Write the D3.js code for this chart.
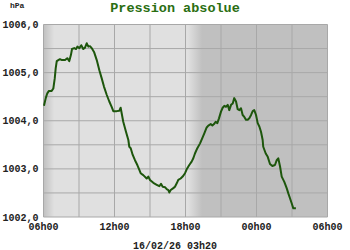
<!DOCTYPE html>
<html>
<head>
<meta charset="utf-8">
<script src="https://cdn.jsdelivr.net/npm/d3@7"></script>
<style>
  body { margin: 0; background: #fff; }
  text { font-family: "Liberation Mono", "DejaVu Sans Mono", monospace; font-weight: bold; }
</style>
</head>
<body>
<script>
// heures depuis 06h00 et pression (hPa)
var heures = [0.04,0.19,0.32,0.46,0.69,0.83,0.95,1.03,1.12,1.25,1.39,1.56,1.82,2.01,2.18,2.32,2.41,2.60,2.75,2.86,3.03,3.19,3.36,3.51,3.65,3.79,3.93,4.07,4.27,4.50,4.72,4.92,5.11,5.34,5.56,5.76,5.90,6.19,6.41,6.52,6.61,6.74,6.97,7.17,7.25,7.37,7.54,7.73,7.93,8.10,8.21,8.43,8.72,8.86,9.00,9.28,9.57,9.79,9.93,10.07,10.27,10.41,10.55,10.63,10.75,10.97,11.11,11.26,11.39,11.59,11.76,11.96,12.10,12.32,12.52,12.66,12.80,13.00,13.23,13.42,13.59,13.79,13.93,14.13,14.27,14.41,14.55,14.69,14.83,15.00,15.14,15.28,15.42,15.57,15.70,15.85,15.99,16.12,16.27,16.41,16.55,16.69,16.83,16.97,17.11,17.26,17.39,17.54,17.68,17.81,17.96,18.10,18.24,18.38,18.52,18.57,18.78,18.95,19.14,19.34,19.56,19.71,19.84,19.99,20.13,20.35,20.55,20.69,20.83,20.98,21.11,21.33];
var pression = [1004.31,1004.47,1004.57,1004.62,1004.62,1004.67,1004.88,1005.09,1005.24,1005.26,1005.28,1005.26,1005.26,1005.30,1005.24,1005.37,1005.49,1005.51,1005.49,1005.54,1005.51,1005.57,1005.49,1005.52,1005.61,1005.54,1005.55,1005.51,1005.43,1005.26,1005.05,1004.88,1004.71,1004.54,1004.40,1004.29,1004.20,1004.20,1004.21,1004.27,1004.15,1003.98,1003.77,1003.60,1003.46,1003.43,1003.29,1003.18,1003.08,1002.98,1002.91,1002.87,1002.80,1002.84,1002.77,1002.71,1002.67,1002.64,1002.69,1002.63,1002.62,1002.58,1002.56,1002.51,1002.56,1002.60,1002.63,1002.70,1002.77,1002.80,1002.84,1002.91,1002.99,1003.08,1003.15,1003.22,1003.32,1003.43,1003.53,1003.64,1003.74,1003.86,1003.90,1003.93,1003.90,1003.93,1003.98,1003.95,1004.05,1004.19,1004.27,1004.31,1004.29,1004.33,1004.22,1004.33,1004.36,1004.47,1004.40,1004.24,1004.22,1004.26,1004.12,1004.08,1004.02,1004.02,1004.05,1004.12,1004.20,1004.22,1004.12,1003.95,1003.88,1003.77,1003.60,1003.46,1003.32,1003.25,1003.10,1003.06,1003.08,1003.18,1003.22,1003.05,1002.84,1002.73,1002.60,1002.49,1002.39,1002.28,1002.18,1002.18];

var ticksX = [0, 6, 12, 18, 24];
var labelsX = ["06h00", "12h00", "18h00", "00h00", "06h00"];
var ticksY = [1002, 1003, 1004, 1005, 1006];
// aube / crépuscule (heures depuis 06h00)
var aube = [0, 0.9];
var crepuscule = [12.2, 13.4];

var W = 350, H = 250;
var gauche = 43.5, droite = 327.5, haut = 24.5, bas = 217;

var svg = d3.select("body").append("svg")
  .attr("width", W)
  .attr("height", H);

var x = d3.scaleLinear().domain([0, 24]).range([gauche, droite]);
var y = d3.scaleLinear().domain([1002, 1006]).range([bas, haut]);

// Fond jour / nuit
var grad = svg.append("defs").append("linearGradient")
  .attr("id", "fond")
  .attr("gradientUnits", "userSpaceOnUse")
  .attr("x1", gauche).attr("x2", droite).attr("y1", 0).attr("y2", 0);
var nuit = "#c0c0c0", jour = "#e0e0e0";
[[aube[0], nuit], [aube[1], jour], [crepuscule[0], jour], [crepuscule[1], nuit], [24, nuit]]
  .forEach(function(s) {
    grad.append("stop").attr("offset", (x(s[0]) - gauche) / (droite - gauche)).attr("stop-color", s[1]);
  });

svg.append("rect")
  .attr("x", gauche).attr("y", haut)
  .attr("width", droite - gauche).attr("height", bas - haut)
  .attr("fill", "url(#fond)");

// Grille
svg.append("g").selectAll("line")
  .data(d3.range(0, 24.01, 3))
  .enter().append("line")
  .attr("x1", function(d) { return x(d); }).attr("x2", function(d) { return x(d); })
  .attr("y1", haut).attr("y2", bas)
  .attr("stroke", "#a8a8a8").attr("stroke-width", 1);

svg.append("g").selectAll("line")
  .data(d3.range(1002, 1006.01, 0.5))
  .enter().append("line")
  .attr("x1", gauche).attr("x2", droite)
  .attr("y1", function(d) { return y(d); }).attr("y2", function(d) { return y(d); })
  .attr("stroke", "#a8a8a8").attr("stroke-width", 1);

// Courbe
var ligne = d3.line()
  .x(function(d, i) { return x(heures[i]); })
  .y(function(d) { return y(d); });

svg.append("path")
  .datum(pression)
  .attr("d", ligne)
  .attr("fill", "none")
  .attr("stroke", "#1d560c")
  .attr("stroke-width", 2)
  .attr("stroke-linejoin", "round");

// Etiquettes
var fmt = function(d) { return d3.format(".1f")(d).replace(".", ","); };

svg.append("g").selectAll("text")
  .data(ticksY)
  .enter().append("text")
  .attr("x", 38.5)
  .attr("y", function(d) { return y(d); })
  .attr("dy", "0.35em")
  .attr("text-anchor", "end")
  .attr("font-size", 10)
  .attr("fill", "#222")
  .text(fmt);

svg.append("g").selectAll("text")
  .data(ticksX)
  .enter().append("text")
  .attr("x", function(d) { return x(d); })
  .attr("y", 226)
  .attr("dy", "0.35em")
  .attr("text-anchor", "middle")
  .attr("font-size", 10)
  .attr("fill", "#222")
  .text(function(d, i) { return labelsX[i]; });

svg.append("text")
  .attr("x", 10).attr("y", 8)
  .attr("font-size", 8)
  .attr("fill", "#222")
  .text("hPa");

svg.append("text")
  .attr("x", 175).attr("y", 12)
  .attr("text-anchor", "middle")
  .attr("font-size", 13.5)
  .attr("fill", "#2a6e12")
  .text("Pression absolue");

svg.append("text")
  .attr("x", 175).attr("y", 245)
  .attr("dy", "0.35em")
  .attr("text-anchor", "middle")
  .attr("font-size", 10)
  .attr("fill", "#222")
  .text("16/02/26 03h20");
</script>
</body>
</html>
